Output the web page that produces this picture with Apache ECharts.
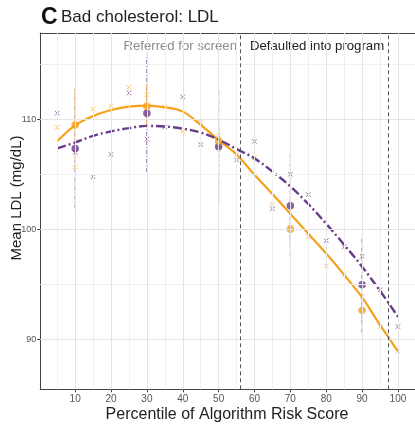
<!DOCTYPE html>
<html>
<head>
<meta charset="utf-8">
<script src="https://cdn.jsdelivr.net/npm/echarts@6/dist/echarts.min.js"></script>
<style>
html,body{margin:0;padding:0;background:#fff;}
#chart{width:415px;height:425px;}
</style>
</head>
<body>
<div id="chart"></div>
<script>
// ---- data ----
const xTicks = [10, 20, 30, 40, 50, 60, 70, 80, 90, 100];
const xMinor = [5, 15, 25, 35, 45, 55, 65, 75, 85, 95];
const yTicks = [90, 100, 110];
const yMinor = [95, 105, 115];
const pct = [5, 10, 15, 20, 25, 30, 35, 40, 45, 50, 55, 60, 65, 70, 75, 80, 85, 90, 95, 100];
const whiteBins = [109.27, 105.64, 110.94, 111.24, 112.9, 112.27, 111.15, 108.9, 109.7, 108.5, 106.8, 106.5, 102.27, 100.2, 99.33, 96.66, 95.85, 93.87, 91.15, 88.9];
const blackBins = [110.55, 107.0, 104.78, 106.8, 112.4, 108.2, 109.3, 112.05, 107.7, 107.6, 106.3, 108.0, 101.85, 105.0, 103.15, 98.96, 98.4, 97.55, 94.5, 91.15];
const whiteFit = [108.0, 109.45, 110.3, 110.85, 111.15, 111.25, 111.1, 110.7, 109.5, 108.1, 106.8, 104.95, 103.2, 101.4, 99.6, 97.8, 95.85, 93.8, 91.3, 88.9];
const blackFit = [107.35, 107.9, 108.5, 108.9, 109.2, 109.4, 109.35, 109.15, 108.8, 108.15, 107.3, 106.45, 105.25, 103.9, 102.3, 100.5, 98.6, 96.6, 94.4, 92.05];
const decilePct = [10, 30, 50, 70, 90];
const whiteDecMean = [109.48, 111.2, 108.0, 100.0, 92.64];
const whiteDecErr = [3.3, 2.0, 1.2, 1.2, 1.3];
const blackDecMean = [107.35, 110.55, 107.5, 102.15, 94.95];
const blackDecErr = [5.45, 5.35, 5.1, 4.65, 4.35];
const thresholds = [55.9, 97.2];

// ---- styling ----
const ORANGE = '#F5A11C';
const ORANGE_LT = '#F5B04A';
const PURPLE = '#683C8A';
const PURPLE_LT = '#7A5896';
const FONT = '"Liberation Sans", Arial, Helvetica, sans-serif';
const XMIN = 0.25, XMAX = 104.75, YMIN = 85.45, YMAX = 117.85;

const pairs = (xs, ys) => xs.map((x, i) => [x, ys[i]]);
const xMark = 'path://M0,0L10,10M10,0L0,10';

function errSeries(means, errs, color, dash) {
  return {
    type: 'custom',
    data: decilePct.map((p, i) => [p, means[i] - errs[i], means[i] + errs[i]]),
    encode: { x: 0, y: [1, 2] },
    silent: true,
    renderItem: function (params, api) {
      const a = api.coord([api.value(0), api.value(1)]);
      const b = api.coord([api.value(0), api.value(2)]);
      return {
        type: 'line',
        shape: { x1: a[0], y1: a[1], x2: b[0], y2: b[1] },
        style: { stroke: color, lineWidth: 1.1, lineDash: dash, fill: null }
      };
    }
  };
}

const gridLines = {
  type: 'line', data: [], silent: true, z: 0,
  markLine: {
    silent: true, symbol: 'none', animation: false,
    label: { show: false },
    data: [
      ...xMinor.map(v => ({ xAxis: v, lineStyle: { color: '#f0f0f0', width: 1, type: 'solid' } })),
      ...yMinor.map(v => ({ yAxis: v, lineStyle: { color: '#f0f0f0', width: 1, type: 'solid' } })),
      ...xTicks.map(v => ({ xAxis: v, lineStyle: { color: '#e4e4e4', width: 1, type: 'solid' } })),
      ...yTicks.map(v => ({ yAxis: v, lineStyle: { color: '#e4e4e4', width: 1, type: 'solid' } }))
    ]
  }
};

const threshLines = {
  type: 'line', data: [], silent: true, z: 1,
  markLine: {
    silent: true, symbol: 'none', animation: false,
    label: { show: false },
    lineStyle: { color: '#555', width: 1, type: [4, 3] },
    data: thresholds.map(v => ({ xAxis: v }))
  }
};

const chart = echarts.init(document.getElementById('chart'), null, { renderer: 'canvas' });
chart.setOption({
  animation: false,
  backgroundColor: '#fff',
  textStyle: { fontFamily: FONT },
  grid: { left: 40.2, top: 33, width: 376.2, height: 356.3, containLabel: false },
  xAxis: [{
    type: 'value', min: XMIN, max: XMAX,
    axisLine: { show: true, lineStyle: { color: '#444', width: 1 } },
    axisTick: { show: true, customValues: xTicks, length: 3, lineStyle: { color: '#444' } },
    axisLabel: { show: true, customValues: xTicks, color: '#555', fontSize: 10, margin: 5, fontFamily: FONT },
    splitLine: { show: false }
  }, {
    type: 'value', position: 'top', min: XMIN, max: XMAX,
    axisLine: { show: true, onZero: false, lineStyle: { color: '#444', width: 1 } },
    axisTick: { show: false }, axisLabel: { show: false }, splitLine: { show: false }
  }],
  yAxis: {
    type: 'value', min: YMIN, max: YMAX,
    axisLine: { show: true, lineStyle: { color: '#444', width: 1 } },
    axisTick: { show: true, customValues: yTicks, length: 3, lineStyle: { color: '#444' } },
    axisLabel: { show: true, customValues: yTicks, color: '#555', fontSize: 9, margin: 4, fontFamily: FONT },
    splitLine: { show: false }
  },
  graphic: [
    { type: 'text', left: 41, top: 6, style: { text: 'C', font: 'bold 23px "Liberation Sans Narrow", "Liberation Sans", Arial, sans-serif', fill: '#111' } },
    { type: 'text', left: 61, top: 9, style: { text: 'Bad cholesterol: LDL', font: '17px ' + FONT, fill: '#222' } },
    { type: 'text', x: 237, y: 46, style: { text: 'Referred for screen', font: '13.2px ' + FONT, fill: '#8a8a8a', align: 'right', verticalAlign: 'middle' } },
    { type: 'text', x: 250, y: 46, style: { text: 'Defaulted into program', font: '13.2px ' + FONT, fill: '#222', align: 'left', verticalAlign: 'middle' } },
    { type: 'text', x: 227, y: 415, style: { text: 'Percentile of Algorithm Risk Score', font: '16px ' + FONT, fill: '#222', align: 'center', verticalAlign: 'middle' } },
    { type: 'text', x: 17, y: 198, rotation: Math.PI / 2, style: { text: 'Mean LDL (mg/dL)', font: '15px ' + FONT, fill: '#222', align: 'center', verticalAlign: 'middle' } }
  ],
  series: [
    gridLines,
    threshLines,
    errSeries(blackDecMean, blackDecErr, PURPLE_LT, [4, 2, 1, 2]),
    errSeries(whiteDecMean, whiteDecErr, ORANGE_LT, null),
    {
      type: 'scatter', data: pairs(pct, whiteBins), symbol: xMark, symbolSize: 4.5,
      itemStyle: { color: 'none', borderColor: ORANGE_LT, borderWidth: 1 }, silent: true
    },
    {
      type: 'scatter', data: pairs(pct, blackBins), symbol: xMark, symbolSize: 4.5,
      itemStyle: { color: 'none', borderColor: PURPLE_LT, borderWidth: 1 }, silent: true
    },
    {
      type: 'line', data: pairs(pct, whiteFit), smooth: 0.4, showSymbol: false, silent: true,
      lineStyle: { color: ORANGE, width: 2.2, type: 'solid' }
    },
    {
      type: 'line', data: pairs(pct, blackFit), smooth: 0.4, showSymbol: false, silent: true,
      lineStyle: { color: PURPLE, width: 2.4, type: [9, 3, 2, 3] }
    },
    {
      type: 'scatter', data: pairs(decilePct, blackDecMean), symbol: 'circle', symbolSize: 7.5,
      itemStyle: { color: PURPLE }, silent: true
    },
    {
      type: 'scatter', data: pairs(decilePct, whiteDecMean), symbol: 'circle', symbolSize: 7.5,
      itemStyle: { color: ORANGE }, silent: true
    }
  ]
});
</script>
</body>
</html>
